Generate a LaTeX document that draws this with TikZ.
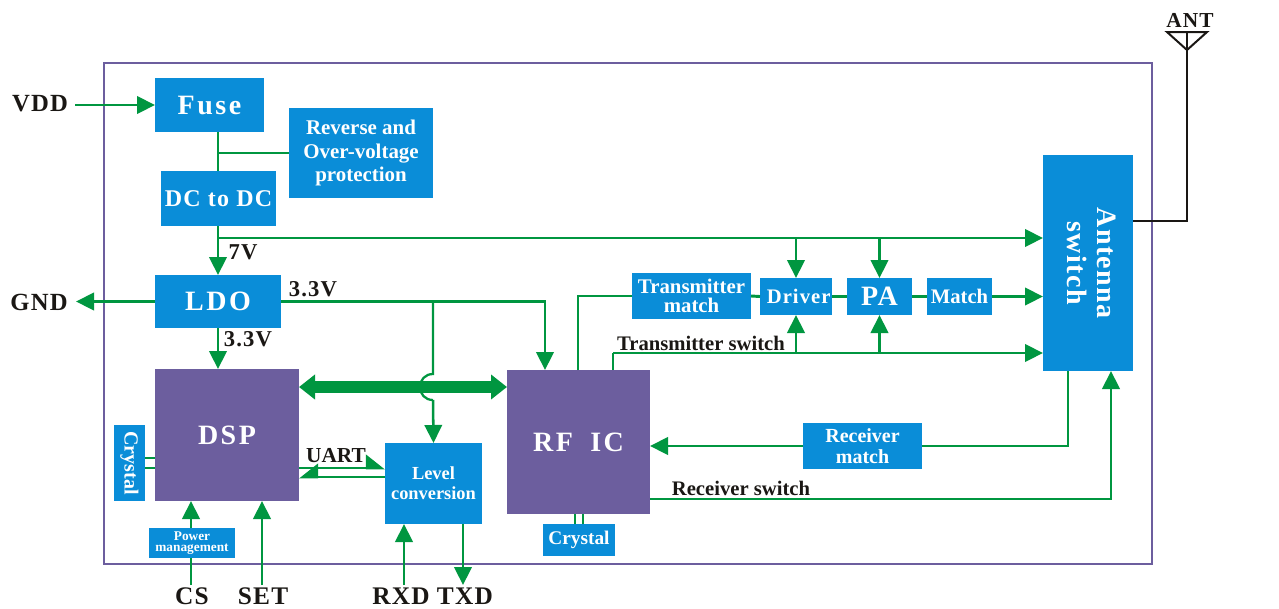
\documentclass[tikz,border=0pt]{standalone}
\usepackage{fontspec}
\usepackage{graphicx}
\setmainfont{Liberation Serif}[BoldFont=* Bold]
\usetikzlibrary{arrows.meta,calc}
\definecolor{bluebox}{HTML}{0A8DD8}
\definecolor{purplebox}{HTML}{6C5E9E}
\definecolor{wire}{HTML}{009640}
\definecolor{ink}{HTML}{1A1714}
\newfontfamily\spaced[LetterSpace=9]{Liberation Serif Bold}
\newfontfamily\spacedb[LetterSpace=5]{Liberation Serif Bold}
\newfontfamily\spacedr[LetterSpace=5]{Liberation Serif}
\newcommand{\fs}[2]{\fontsize{#1}{#2}\selectfont}
\tikzset{
  x=.75pt,y=-.75pt,
  bluesq/.style={fill=bluebox,draw=none,outer sep=0pt,text=white,inner sep=0pt,align=center,font=\bfseries},
  purplesq/.style={fill=purplebox,draw=none,outer sep=0pt,text=white,inner sep=0pt,align=center,font=\bfseries},
  lbl/.style={text=ink,inner sep=0pt},
  wireline/.style={draw=wire,line width=2.2pt},
  wirearrow/.style={wireline,-{Triangle[length=13.5pt,width=13pt]}},
  harpu/.style={draw=wire,line width=2.2pt,-{Triangle[length=13pt,width=20pt,harpoon]}},
  harpd/.style={draw=wire,line width=2.2pt,-{Triangle[length=13pt,width=20pt,harpoon,swap]}},
  thin wire/.style={draw=wire,line width=1.7pt},
  busarrow/.style={draw=wire,line width=9pt,{Triangle[length=12pt,width=18pt]}-{Triangle[length=12pt,width=18pt]}},
  antline/.style={draw=ink,line width=1.5pt},
}
% name, x1, y1, x2, y2, style, text
\newcommand{\bx}[7]{\node[#6,minimum width={(#4-#2)*.75pt},minimum height={(#5-#3)*.75pt}] (#1) at ({(#2+#4)/2},{(#3+#5)/2}) {#7};}
\begin{document}
\begin{tikzpicture}
\useasboundingbox (0,0) rectangle (1279,608);
\node[draw=purplebox,line width=1.5pt,inner sep=0pt,minimum width={1048*.75pt},minimum height={501*.75pt}] (frame) at (628,313.5) {};

\bx{fuse}{155}{78}{264}{132}{bluesq}{{\spaced\fs{21}{25}Fuse}}
\bx{rev}{289}{108}{433}{198}{bluesq,font=\bfseries\fs{15.7}{17.6}}{Reverse and\\Over-voltage\\protection}
\bx{dcdc}{161}{171}{276}{226}{bluesq}{{\spacedb\fs{18}{22}DC {\spacedr to} DC}}
\bx{ldo}{155}{275}{281}{328}{bluesq}{{\spaced\fs{21}{25}LDO}}
\bx{dsp}{155}{369}{299}{501}{purplesq}{{\spaced\fs{21}{25}DSP}}
\bx{crl}{114}{425}{145}{501}{bluesq}{\rotatebox{-90}{\fs{15}{18}Crystal}}
\bx{pwr}{149}{528}{235}{558}{bluesq,font=\bfseries\fs{10}{8.6}}{Power\\management}
\bx{lvl}{385}{443}{482}{524}{bluesq,font=\bfseries\fs{13.8}{15}}{Level\\conversion}
\bx{rf}{507}{370}{650}{514}{purplesq}{{\spaced\fs{21}{25}RF\hspace{13pt}IC}}
\bx{crb}{543}{524}{615}{556}{bluesq,font=\bfseries\fs{14.5}{17}}{Crystal}
\bx{tm}{632}{273}{751}{319}{bluesq,font=\bfseries\fs{15.6}{14.5}}{Transmitter\\match}
\bx{drv}{760}{278}{832}{315}{bluesq}{\hspace{4pt}{\spacedb\fs{15.5}{18}Driver}}
\bx{pa}{847}{278}{912}{315}{bluesq}{{\spacedb\fs{21}{25}PA}}
\bx{mat}{927}{278}{992}{315}{bluesq,font=\bfseries\fs{15.5}{18}}{Match}
\bx{ant}{1043}{155}{1133}{371}{bluesq}{\rotatebox{-90}{\fs{21}{22.5}\begin{tabular}{@{}c@{}}\spacedb Antenna\\\spacedb switch\end{tabular}}}
\bx{rm}{803}{423}{922}{469}{bluesq,font=\bfseries\fs{15}{15.7}}{Receiver\\match}

\node[lbl,font=\spacedb\fs{18.5}{22}] (vdd) at (40,104) {VDD};
\node[lbl,font=\spacedb\fs{18.5}{22}] (gnd) at (39,302) {GND};
\node[lbl,font=\spacedb\fs{19}{22}] (cs) at (192,596) {CS};
\node[lbl,font=\spacedb\fs{19}{22}] (set) at (263,596) {SET};
\node[lbl,font=\spacedb\fs{19}{22}] (rxd) at (401,596) {RXD};
\node[lbl,font=\spacedb\fs{19}{22}] (txd) at (465,596) {TXD};
\node[lbl,font=\spacedb\fs{16}{19}] (anttext) at (1190,20) {ANT};
\node[lbl,font=\spacedb\fs{17}{20}] (v7) at (243,252) {7V};
\node[lbl,font=\spacedb\fs{17}{20}] (v33a) at (313,289) {3.3V};
\node[lbl,font=\spacedb\fs{17}{20}] (v33b) at (248,339) {3.3V};
\node[lbl,font=\bfseries\fs{16}{19}] (uart) at (336,456) {UART};
\node[lbl,font=\bfseries\fs{15.5}{18}] (tsw) at (701,343) {Transmitter switch};
\node[lbl,font=\bfseries\fs{15.5}{18}] (rsw) at (741,488) {Receiver switch};

\coordinate (jrev) at (218,153);
\coordinate (j7) at (218,238);
\coordinate (jl) at (433,302);
\coordinate (hopa) at (433,374);
\coordinate (hopb) at (433,400);
\coordinate (rfp) at (545,370);
\coordinate (tmup) at (578,370);
\coordinate (tsup) at (613,370);
\coordinate (tsj) at (613,353);
\coordinate (rsw0) at (650,499);
\coordinate (rx0) at (1111,371);
\coordinate (ra0) at (1068,371);
\coordinate (cshi) at (191,558);
\coordinate (cslo) at (191,585);
\coordinate (setlo) at (262,585);
\coordinate (rxdlo) at (404,585);
\coordinate (rxdhi) at (404,524);
\coordinate (txdlo) at (463,585);
\coordinate (txdhi) at (463,524);
\coordinate (ldodsp) at (218,328);
\coordinate (ldodspb) at (218,369);
\coordinate (setb) at (262,501);
\coordinate (pwrt) at (191,501);
\coordinate (ua) at (299,468);
\coordinate (ub) at (385,477);
\coordinate (cl1) at (145,458);
\coordinate (cl2) at (145,468);
\coordinate (cb1) at (575,524);
\coordinate (cb2) at (583,524);
\coordinate (antout) at (1133,221);
\coordinate (anttop) at (1187,32);
\coordinate (antl) at (1167,32);
\coordinate (antr) at (1207,32);
\coordinate (antv) at (1187,50);
\coordinate (busl) at (299,387);
\coordinate (busr) at (507,387);
\coordinate (vddstart) at (75,105);
\coordinate (gndtip) at (76,302);
\coordinate (fs) at (218,132);
\coordinate (dt) at (218,171);
\coordinate (ds) at (218,226);
\coordinate (lt) at (218,275);

% VDD, fuse, power chain
\draw[wirearrow] (vddstart) -- (fuse.west);
\draw[wireline] (fs) -- (dt);
\draw[wireline] (jrev) -- (rev.west |- jrev);
\draw[wirearrow] (ds) -- (lt);
\draw[wirearrow] (j7) -- (ant.west |- j7);
\draw[wirearrow] (drv.north |- j7) -- (drv.north);
\draw[wirearrow] (pa.north |- j7) -- (pa.north);
\draw[wirearrow] (ldo.west) -- (gndtip |- ldo.west);
\draw[wirearrow] (ldodsp) -- (ldodspb);
\draw[wirearrow] (ldo.east) -| (rfp);
\draw[thin wire] (jl) -- (hopa) .. controls (425,374) and (420,380) .. (420,387) .. controls (420,394) and (425,400) .. (hopb);
\draw[wirearrow,line width=1.9pt] (hopb) -- (lvl.north);
\draw[busarrow] (busl) -- (busr);
% DSP surroundings
\draw[thin wire] (cl1) -- (cl1 -| dsp.west);
\draw[thin wire] (cl2) -- (cl2 -| dsp.west);
\draw[harpu] (ua) -- (ua -| lvl.west);
\draw[harpd] (ub) -- (ub -| dsp.east);
\draw[wirearrow] (pwr.north -| pwrt) -- (pwrt);
\draw[wireline] (cslo) -- (cshi);
\draw[wirearrow] (setlo) -- (setb);
\draw[wirearrow] (rxdlo) -- (rxdhi);
\draw[wirearrow] (txdhi) -- (txdlo);
% RF chain
\draw[wireline] (tmup) |- (tm.west);
\draw[wireline] (tm.east) -- (drv.west);
\draw[wireline] (drv.east) -- (pa.west);
\draw[wireline] (pa.east) -- (mat.west);
\draw[wirearrow] (mat.east) -- (ant.west |- mat.east);
\draw[wireline] (tsup) -- (tsj);
\draw[wirearrow] (tsj) -- (ant.west |- tsj);
\draw[wirearrow] (drv.south |- tsj) -- (drv.south);
\draw[wirearrow] (pa.south |- tsj) -- (pa.south);
\draw[wireline] (ra0) |- (rm.east);
\draw[wirearrow] (rm.west) -- (rf.east |- rm.west);
\draw[wirearrow] (rsw0) -| (rx0);
\draw[thin wire] (cb1) -- (cb1 |- rf.south);
\draw[thin wire] (cb2) -- (cb2 |- rf.south);
% antenna
\draw[antline] (antout) -| (antv);
\draw[antline] (antv) -- (anttop);
\draw[antline,line join=miter] (antl) -- (antr) -- (antv) -- cycle;
\end{tikzpicture}
\end{document}
